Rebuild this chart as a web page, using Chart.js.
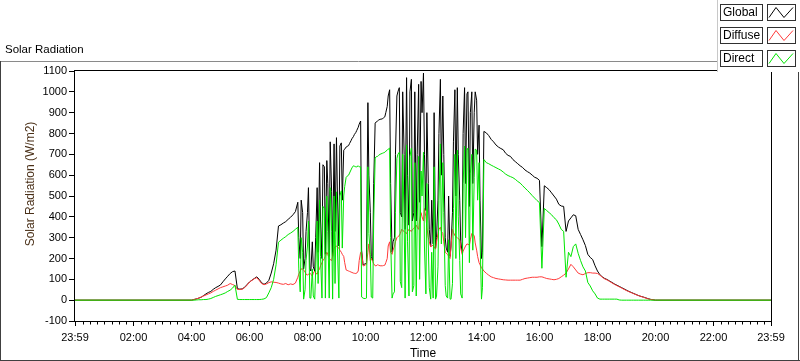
<!DOCTYPE html>
<html><head><meta charset="utf-8">
<script src="https://cdn.jsdelivr.net/npm/chart.js@4.4.1/dist/chart.umd.min.js"></script>
<style>html,body{margin:0;padding:0;background:#fff;overflow:hidden}canvas{display:block}</style>
</head><body>
<canvas id="c" width="800" height="361"></canvas>
<script>
// ---- time axis (first "23:59" = previous day, last "23:59" = end of day) ----
const times = ["23:59",
"04:00","04:05","04:10","04:15","04:20","04:25","04:30","04:35","04:40","04:45","04:50","04:55",
"05:00","05:05","05:10","05:15","05:20","05:25","05:30","05:35","05:40","05:45","05:50","05:55",
"06:00","06:05","06:10","06:15","06:20","06:25","06:30","06:35","06:40","06:45","06:50","06:55",
"07:00","07:05","07:10","07:15","07:20","07:25","07:30","07:35","07:40","07:42","07:45","07:47","07:50","07:52","07:55","07:57",
"08:00","08:02","08:05","08:07","08:10","08:12","08:15","08:17","08:20","08:22","08:25","08:27","08:30","08:32","08:35","08:37","08:40","08:42","08:45","08:47","08:50","08:52","08:55","08:57",
"09:00","09:02","09:05","09:07","09:10","09:12","09:15","09:17","09:20","09:22","09:25","09:27","09:30","09:32","09:35","09:37","09:40","09:42","09:45","09:47","09:50","09:52","09:55","09:57",
"10:00","10:02","10:05","10:07","10:10","10:12","10:15","10:17","10:20","10:22","10:25","10:27","10:30","10:32","10:35","10:37","10:40","10:42","10:45","10:47","10:50","10:52","10:55","10:57",
"11:00","11:02","11:05","11:07","11:10","11:12","11:15","11:17","11:20","11:22","11:25","11:27","11:30","11:32","11:35","11:37","11:40","11:42","11:45","11:47","11:50","11:52","11:55","11:57",
"12:00","12:02","12:05","12:07","12:10","12:12","12:15","12:17","12:20","12:22","12:25","12:27","12:30","12:32","12:35","12:37","12:40","12:42","12:45","12:47","12:50","12:52","12:55","12:57",
"13:00","13:02","13:05","13:07","13:10","13:12","13:15","13:17","13:20","13:22","13:25","13:27","13:30","13:32","13:35","13:37","13:40","13:42","13:45","13:47","13:50","13:52","13:55","13:57",
"14:00","14:02","14:05","14:10","14:15","14:20","14:25","14:30","14:35","14:40","14:45","14:50","14:55",
"15:00","15:05","15:10","15:15","15:20","15:25","15:30","15:35","15:40","15:45","15:50","15:55",
"16:00","16:05","16:10","16:15","16:20","16:25","16:30","16:35","16:40","16:45","16:50","16:55",
"17:00","17:05","17:10","17:15","17:20","17:25","17:30","17:35","17:40","17:45","17:50","17:55",
"18:00","18:05","18:10","18:15","18:20","18:25","18:30","18:35","18:40","18:45","18:50","18:55",
"19:00","19:05","19:10","19:15","19:20","19:25","19:30","19:35","19:40","19:45","19:50","19:55",
"20:00","20:05",
"23:59"];

const globalRad = [0,
0,3,6,10,14,22,30,37,42,52,60,66,
73,88,102,115,128,137,140,55,53,54,62,75,
87,96,104,112,100,84,76,82,95,130,175,240,
356,362,370,377,388,398,410,425,470,300,200,480,420,150,200,330,
420,540,150,140,280,160,140,300,540,230,660,380,200,650,640,220,670,560,210,760,520,210,750,330,
780,500,260,740,755,480,720,725,735,738,742,752,765,775,785,795,805,815,830,845,860,240,170,172,
175,180,948,600,420,210,190,560,850,855,860,864,868,869,870,875,880,900,930,980,1010,560,230,280,
300,700,980,1000,1020,420,400,1000,700,340,1068,600,360,1000,1060,380,420,1000,380,700,1036,470,1050,900,
1090,700,430,900,560,340,260,480,270,900,250,300,480,800,1060,600,980,700,300,250,230,500,210,260,
420,760,1010,500,1020,700,480,280,230,800,1020,560,990,1000,450,900,1000,560,900,1000,960,700,840,480,
200,230,810,803,790,772,760,745,735,728,722,705,695,
690,675,665,655,645,637,625,617,610,600,590,585,
575,257,549,540,530,515,500,485,460,452,450,330,
380,395,410,405,340,315,290,262,220,205,195,165,
140,122,112,104,99,92,85,78,72,66,60,54,
48,42,37,32,27,22,18,15,11,7,4,2,
0,0,
0];

const diffuseRad = [0,
0,3,6,10,15,20,25,30,35,42,48,54,
60,64,68,72,80,75,70,52,51,53,60,72,
87,95,103,108,95,80,74,78,84,88,86,85,
82,78,76,80,74,78,75,82,110,125,140,150,150,145,135,125,
120,125,130,125,115,130,140,130,125,140,150,165,180,190,200,210,230,220,200,195,190,210,250,255,
260,255,250,240,230,220,210,180,145,143,140,138,135,133,130,129,128,130,140,190,230,230,165,165,
170,172,230,270,190,200,185,175,165,165,170,168,165,165,165,166,168,180,200,260,280,230,220,240,
260,280,300,305,310,320,340,335,330,325,320,330,340,335,330,338,345,350,360,350,340,380,420,400,
380,440,400,350,300,280,255,260,265,255,245,280,320,340,350,330,320,280,230,225,220,210,200,260,
340,325,310,305,300,295,290,250,220,235,250,260,270,268,265,290,320,315,310,275,240,210,180,170,
155,150,140,129,120,112,108,104,102,100,98,97,96,
96,96,96,96,96,100,104,106,108,110,110,110,
112,112,108,104,102,100,98,100,104,112,120,130,
150,172,160,145,130,125,122,128,132,132,130,130,
128,120,110,102,97,90,83,76,70,64,58,52,
46,41,36,31,26,22,18,14,10,6,3,2,
0,0,
0];

const directRad = [0,
0,0,1,2,2,3,3,5,8,13,18,22,
26,30,35,42,48,58,72,4,3,3,3,3,
3,3,3,3,3,4,6,12,35,60,100,170,
278,288,297,305,315,322,330,340,350,150,40,300,230,5,50,190,
260,380,10,10,150,20,5,150,380,80,480,210,10,450,440,10,500,330,10,540,330,5,500,80,
520,250,10,500,525,250,500,545,590,595,600,610,625,635,645,643,640,640,645,640,640,15,10,8,
8,10,640,320,220,15,10,380,683,688,690,695,700,702,705,707,710,715,720,725,730,300,10,30,
40,420,680,700,710,90,60,700,370,10,745,280,20,690,730,40,70,660,20,380,690,100,620,500,
710,260,30,560,260,60,5,230,10,640,5,20,160,480,750,270,660,420,70,20,10,290,5,5,
80,440,700,200,720,400,190,30,10,560,740,300,720,730,180,610,700,240,590,725,720,480,660,300,
5,60,675,660,655,648,642,636,630,624,615,605,598,
593,588,580,570,562,550,538,527,515,502,490,478,
468,153,440,430,420,410,396,386,365,340,330,110,
230,209,257,270,225,190,160,140,85,68,45,30,
10,5,5,5,5,5,5,5,5,1,0,0,
0,0,0,0,0,0,0,0,0,0,0,0,
0,0,
0];

const xTickLabels = ["23:59","02:00","04:00","06:00","08:00","10:00","12:00","14:00","16:00","18:00","20:00","22:00","23:59"];
const yMin = -100, yMax = 1100, yStep = 100;
const seriesNames = ["Global","Diffuse","Direct"];
const seriesColors = ["#000000","#ff3a3a","#00e600"];

function toHours(t, i) {
  const p = t.split(':').map(Number);
  let v = p[0] + p[1] / 60;
  if (i === 0 && v > 12) v -= 24;
  return v;
}
const xs = times.map((t, i) => toHours(t, i));
const xTickVals = xTickLabels.map((t, i) => toHours(t, i));
const labelFor = new Map(xTickVals.map((v, i) => [v.toFixed(4), xTickLabels[i]]));

const FONT = '"Liberation Sans", Arial, sans-serif';
const mk = arr => arr.map((v, i) => ({x: xs[i], y: v}));

const decor = {
  id: 'decor',
  beforeDraw(chart) {
    const ctx = chart.ctx;
    ctx.save(); ctx.fillStyle = '#fff'; ctx.fillRect(0, 0, chart.width, chart.height); ctx.restore();
  },
  afterDraw(chart) {
    const ctx = chart.ctx, a = chart.chartArea, xs_ = chart.scales.x;
    ctx.save();
    ctx.strokeStyle = '#000'; ctx.lineWidth = 1;
    ctx.strokeRect(Math.round(a.left) - 0.5, Math.round(a.top) - 0.5, Math.round(a.right - a.left) + 1, Math.round(a.bottom - a.top) + 1);
    ctx.beginPath();
    for (let m = 15; m < 24 * 60; m += 15) {
      if (m % 120 === 0) continue;
      const px = Math.round(xs_.getPixelForValue(m / 60)) + 0.5;
      ctx.moveTo(px, a.bottom + 0.5); ctx.lineTo(px, a.bottom + 3.5);
    }
    ctx.stroke();
    ctx.strokeStyle = '#8a8a8a';
    ctx.beginPath(); ctx.moveTo(0, 61.5); ctx.lineTo(717, 61.5); ctx.stroke();
    ctx.strokeStyle = '#404040';
    ctx.beginPath();
    ctx.moveTo(0.5, 61); ctx.lineTo(0.5, 361);
    ctx.moveTo(0, 360.5); ctx.lineTo(800, 360.5);
    ctx.moveTo(798.5, 72); ctx.lineTo(798.5, 361);
    ctx.stroke();
    ctx.fillStyle = '#000';
    ctx.font = '11.5px ' + FONT; ctx.textBaseline = 'middle'; ctx.textAlign = 'left';
    ctx.fillText('Solar Radiation', 5, 50);
    ctx.font = '12px ' + FONT; ctx.textAlign = 'center';
    ctx.fillText('Time', (a.left + a.right) / 2, 354);
    ctx.save();
    ctx.translate(31, 184); ctx.rotate(-Math.PI / 2);
    ctx.fillStyle = '#4a3018';
    ctx.fillText('Solar Radiation (W/m2)', 0, 0);
    ctx.restore();
    ctx.fillStyle = '#fff'; ctx.fillRect(717, 0, 83, 72);
    ctx.strokeStyle = '#c8c8c8';
    ctx.beginPath(); ctx.moveTo(717.5, 0); ctx.lineTo(717.5, 72); ctx.stroke();
    ctx.font = '12px ' + FONT; ctx.textAlign = 'left';
    for (let i = 0; i < 3; i++) {
      const y0 = 4 + i * 23;
      ctx.strokeStyle = '#303030'; ctx.lineWidth = 1;
      ctx.strokeRect(720.5, y0 + 0.5, 42, 16);
      ctx.strokeRect(767.5, y0 + 0.5, 28, 16);
      ctx.fillStyle = '#000';
      ctx.fillText(seriesNames[i], 723, y0 + 9);
      ctx.strokeStyle = seriesColors[i];
      ctx.beginPath();
      ctx.moveTo(769, y0 + 13.5); ctx.lineTo(776, y0 + 3.5); ctx.lineTo(784, y0 + 13.5); ctx.lineTo(793, y0 + 3.5);
      ctx.stroke();
    }
    ctx.restore();
  }
};

new Chart(document.getElementById('c'), {
  type: 'line',
  data: {
    datasets: [
      {label: seriesNames[0], data: mk(globalRad), borderColor: seriesColors[0], order: 3},
      {label: seriesNames[1], data: mk(diffuseRad), borderColor: seriesColors[1], order: 2},
      {label: seriesNames[2], data: mk(directRad), borderColor: seriesColors[2], order: 1}
    ].map(d => Object.assign(d, {borderWidth: 1, pointRadius: 0, tension: 0, fill: false}))
  },
  options: {
    responsive: false, animation: false, devicePixelRatio: 1,
    layout: {padding: {left: 0, right: 29, top: 71, bottom: 0}},
    plugins: {legend: {display: false}, tooltip: {enabled: false}},
    scales: {
      x: {
        type: 'linear', min: xTickVals[0], max: xTickVals[xTickVals.length - 1],
        afterBuildTicks: s => { s.ticks = xTickVals.map(v => ({value: v})); },
        afterFit: s => { s.height = 40; },
        ticks: {autoSkip: false, maxRotation: 0, padding: 5, color: '#000', font: {family: FONT, size: 11},
          callback: v => labelFor.get(Number(v).toFixed(4)) || ''},
        grid: {drawOnChartArea: false, drawTicks: true, tickLength: 5, tickColor: '#000'},
        border: {display: false}
      },
      y: {
        min: yMin, max: yMax,
        afterFit: s => { s.width = 75; },
        ticks: {stepSize: yStep, padding: 2, color: '#000', font: {family: FONT, size: 11},
          callback: v => String(v)},
        grid: {drawOnChartArea: false, drawTicks: true, tickLength: 6, tickColor: '#000'},
        border: {display: false}
      }
    }
  },
  plugins: [decor]
});
</script>
</body></html>
